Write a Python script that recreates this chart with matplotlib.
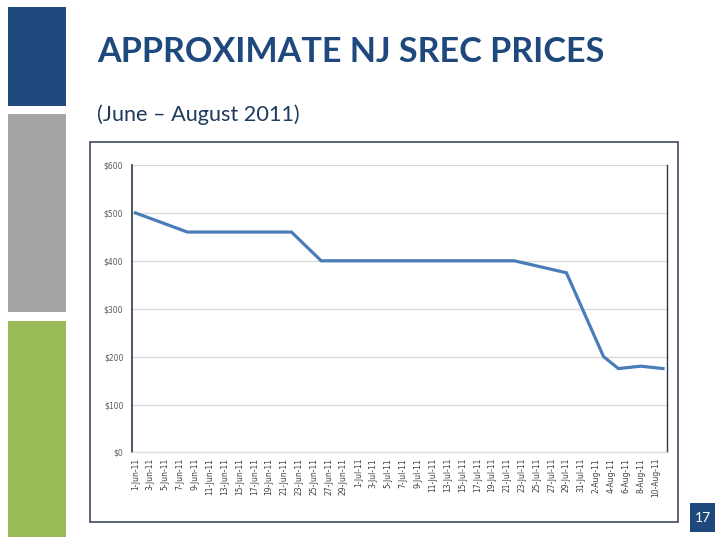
import matplotlib
matplotlib.use("Agg")
import matplotlib.pyplot as plt
import matplotlib.dates as mdates
import pandas as pd
from matplotlib.patches import Rectangle

# ---- data ----
price_dates = ["2011-06-01", "2011-06-08", "2011-06-22", "2011-06-26", "2011-07-22",
               "2011-07-29", "2011-08-03", "2011-08-05", "2011-08-08", "2011-08-11"]
prices = [500, 460, 460, 400, 400, 375, 200, 175, 180, 175]
y_ticks = [0, 100, 200, 300, 400, 500, 600]
y_tick_labels = ["$0", "$100", "$200", "$300", "$400", "$500", "$600"]
tick_dates = pd.date_range("2011-06-01", "2011-08-10", freq="2D")
tick_labels = [f"{d.day}-{d.strftime('%b')}-11" for d in tick_dates]
title = "APPROXIMATE NJ SREC PRICES"
subtitle = "(June \u2013 August 2011)"
page_number = "17"

W, H = 720, 540
fig = plt.figure(figsize=(7.2, 5.4), dpi=100)
fig.patch.set_facecolor("white")

def fx(x): return x / W
def fy(y): return 1 - y / H

# side decoration blocks
for (y0, y1, c) in [(7, 106, "#1F497D"), (114, 312, "#A5A5A5"), (321, 537, "#9BBB59")]:
    fig.add_artist(Rectangle((fx(8), fy(y1)), fx(66) - fx(8), fy(y0) - fy(y1),
                             transform=fig.transFigure, facecolor=c, edgecolor="none"))

# title & subtitle
fig.text(fx(97), fy(52), title, fontsize=24.6, fontweight="bold", color="#1F497D",
         family="Lato", va="center", ha="left")
fig.text(fx(97), fy(115), subtitle, fontsize=15.6, color="#1F3B5C",
         family="Lato", va="center", ha="left")

# chart border
fig.add_artist(Rectangle((fx(90), fy(522)), fx(678) - fx(90), fy(142) - fy(522),
                         transform=fig.transFigure, facecolor="none",
                         edgecolor="#3C4A5C", linewidth=1.2))

# page number box
fig.add_artist(Rectangle((fx(690), fy(532)), fx(715) - fx(690), fy(503) - fy(532),
                         transform=fig.transFigure, facecolor="#1F497D", edgecolor="none"))
fig.text(fx(702.5), fy(517.5), page_number, fontsize=10, color="white",
         ha="center", va="center", family="Lato")

# plot axes
left, right, bottom, top = 131.7, 666.7, 452.4, 165
ax = fig.add_axes([fx(left), fy(bottom), fx(right) - fx(left), fy(top) - fy(bottom)])
x = pd.to_datetime(price_dates)
ax.plot(x, prices, color="#4A7DB8", linewidth=2.3, solid_joinstyle="miter")
ax.set_ylim(0, 600)
ax.set_xlim(pd.Timestamp("2011-05-31 12:00"), pd.Timestamp("2011-08-11 12:00"))
ax.set_yticks(y_ticks)
ax.set_yticklabels(y_tick_labels)
ax.set_xticks(tick_dates)
ax.set_xticklabels(tick_labels, rotation=90, ha="center", va="top")
ax.tick_params(axis="y", length=0, pad=6, labelsize=5.5, labelcolor="#595959")
ax.tick_params(axis="x", length=0, pad=4, labelsize=5.5, labelcolor="#404040")
ax.grid(axis="y", color="#D9D9D9", linewidth=1)
ax.set_axisbelow(True)
ax.spines["top"].set_visible(False)
ax.spines["right"].set_color("#2B3A4A")
ax.spines["right"].set_linewidth(1.0)
ax.spines["bottom"].set_color("#D9D9D9")
ax.spines["left"].set_color("#2B3A4A")
ax.spines["left"].set_linewidth(1.2)
for lbl in ax.get_xticklabels() + ax.get_yticklabels():
    lbl.set_family("DejaVu Sans")

fig.savefig("out.png", dpi=100, facecolor="white")
